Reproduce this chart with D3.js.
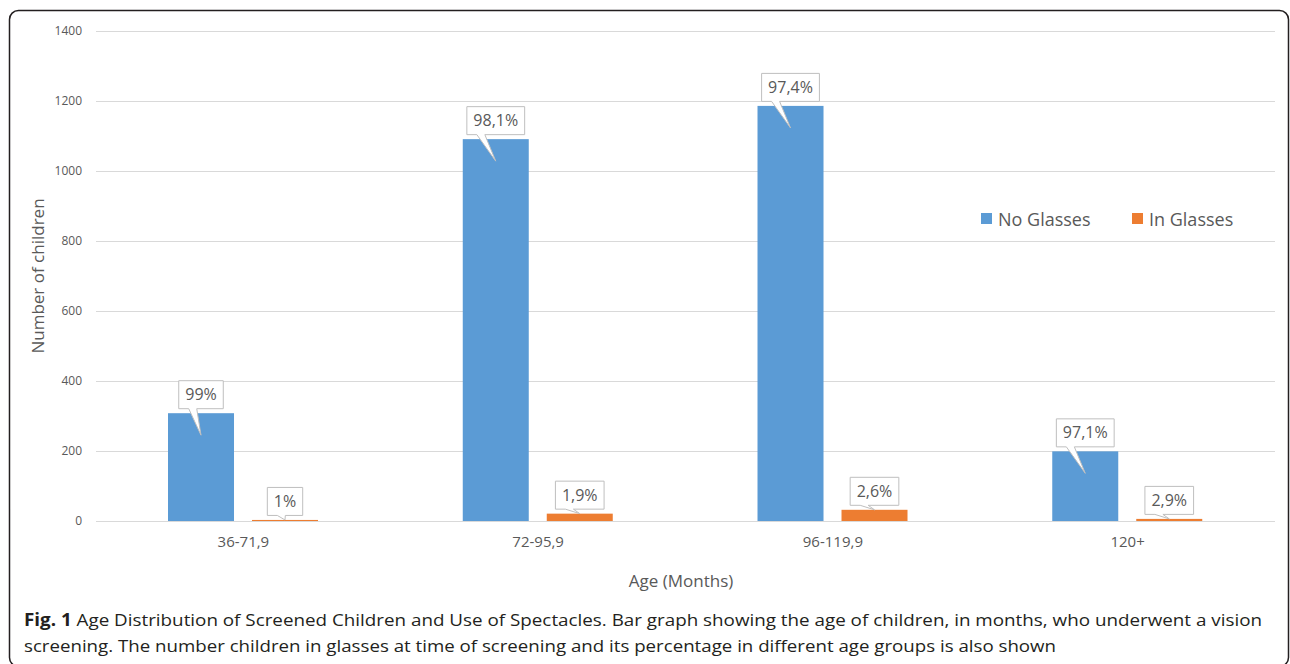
<!DOCTYPE html>
<html>
<head>
<meta charset="utf-8">
<script src="https://cdn.jsdelivr.net/npm/d3@7/dist/d3.min.js"></script>
<style>
  html, body { margin: 0; padding: 0; background: #fff; }
  svg { display: block; }
</style>
</head>
<body>
<svg id="chart" width="1290" height="664"></svg>
<script>
// Age groups (months)
const categories = ["36-71,9", "72-95,9", "96-119,9", "120+"];
// Number of children per group
const noGlasses = [308, 1091, 1186, 199];
const inGlasses = [3, 21, 32, 6];
// Share of each group, as printed on the callouts
const noGlassesPct = ["99%", "98,1%", "97,4%", "97,1%"];
const inGlassesPct = ["1%", "1,9%", "2,6%", "2,9%"];
const seriesNames = ["No Glasses", "In Glasses"];
const yTicks = [0, 200, 400, 600, 800, 1000, 1200, 1400];

const colors = { "No Glasses": "#5b9bd5", "In Glasses": "#ed7d31" };
const chartFont = "'Open Sans', 'Noto Sans', sans-serif";

const svg = d3.select("#chart");

// Outer frame (its lower edge runs just past the page bottom)
svg.append("rect")
  .attr("x", 9.5).attr("y", 10.5)
  .attr("width", 1279).attr("height", 656)
  .attr("rx", 9).attr("ry", 9)
  .attr("fill", "none").attr("stroke", "#231f20").attr("stroke-width", 1.5);

const plot = { left: 96, right: 1275, top: 31, bottom: 521 };

const y = d3.scaleLinear().domain([0, 1400]).range([plot.bottom, plot.top]);
const x0 = d3.scaleBand().domain(categories).range([plot.left, plot.right]).padding(0);
const x1 = d3.scaleBand().domain(seriesNames)
  .range([x0.bandwidth() * 0.2443, x0.bandwidth() * 0.7532])
  .paddingInner(0.2143).paddingOuter(0);

// Gridlines
svg.append("g").selectAll("line").data(yTicks).join("line")
  .attr("x1", plot.left).attr("x2", plot.right)
  .attr("y1", d => Math.round(y(d)) + 0.5).attr("y2", d => Math.round(y(d)) + 0.5)
  .attr("stroke", "#d9d9d9").attr("stroke-width", 1);

// Y axis labels
const yAxis = d3.axisLeft(y).tickValues(yTicks).tickFormat(d3.format("d"))
  .tickSize(0).tickPadding(0);
const gy = svg.append("g").attr("transform", `translate(${82},0)`).call(yAxis);
gy.select(".domain").remove();
gy.selectAll("text")
  .attr("fill", "#595959").attr("font-size", 12).attr("font-family", chartFont);

// X axis labels
const xAxis = d3.axisBottom(x0).tickSize(0).tickPadding(0);
const gx = svg.append("g").attr("transform", `translate(0,${536})`).call(xAxis);
gx.select(".domain").remove();
gx.selectAll("text")
  .attr("fill", "#595959").attr("font-size", 15).attr("font-family", chartFont);

// Axis titles
svg.append("text")
  .attr("x", 681).attr("y", 587)
  .attr("text-anchor", "middle")
  .attr("fill", "#595959").attr("font-size", 17).attr("font-family", chartFont)
  .text("Age (Months)");

svg.append("text")
  .attr("transform", `translate(${44},${276}) rotate(-90)`)
  .attr("text-anchor", "middle")
  .attr("fill", "#595959").attr("font-size", 17).attr("font-family", chartFont)
  .text("Number of children");

// Bar records
const rows = categories.map((c, i) => ({
  cat: c,
  bars: [
    { series: "No Glasses", value: noGlasses[i], pct: noGlassesPct[i] },
    { series: "In Glasses", value: inGlasses[i], pct: inGlassesPct[i] }
  ]
}));

const groups = svg.append("g").selectAll("g").data(rows).join("g")
  .attr("transform", d => `translate(${x0(d.cat)},0)`);

groups.selectAll("rect").data(d => d.bars).join("rect")
  .attr("x", d => x1(d.series))
  .attr("y", d => y(d.value))
  .attr("width", x1.bandwidth())
  .attr("height", d => y(0) - y(d.value))
  .attr("fill", d => colors[d.series]);

// Data callouts
const callouts = svg.append("g");
rows.forEach(r => {
  r.bars.forEach(b => {
    const cx = x0(r.cat) + x1(b.series) + x1.bandwidth() / 2;
    const top = y(b.value);
    const g = callouts.append("g");
    const path = g.append("path");
    const t = g.append("text")
      .attr("x", cx).attr("text-anchor", "middle")
      .attr("fill", "#595959").attr("font-size", 16).attr("font-family", chartFont)
      .text(b.pct);
    const w = t.node().getComputedTextLength() + 13;
    const h = 28;
    const bottom = top - 4.5;
    const left = cx - w / 2, right = cx + w / 2, upper = bottom - h;
    const tipY = b.series === "No Glasses" ? top + 22 : top;
    t.attr("y", bottom - 8.5);
    path.attr("d", [
      `M${left},${upper}`, `L${right},${upper}`, `L${right},${bottom}`,
      `L${left + 18},${bottom}`, `L${cx},${tipY}`, `L${left + 10},${bottom}`,
      `L${left},${bottom}`, "Z"
    ].join(""))
      .attr("fill", "#fff").attr("stroke", "#bfbfbf").attr("stroke-width", 1);
  });
});

// Legend
const legendX = [981, 1132];
const legend = svg.append("g");
seriesNames.forEach((s, i) => {
  legend.append("rect")
    .attr("x", legendX[i]).attr("y", 213)
    .attr("width", 11).attr("height", 11)
    .attr("fill", colors[s]);
  legend.append("text")
    .attr("x", legendX[i] + 17).attr("y", 226)
    .attr("fill", "#595959").attr("font-size", 18).attr("font-family", chartFont)
    .text(s);
});

// Figure caption
const captionFont = "'Open Sans', 'Noto Sans', sans-serif";
const cap1 = svg.append("text")
  .attr("x", 24).attr("y", 626)
  .attr("fill", "#231f20").attr("font-size", 17).attr("font-family", captionFont)
  .attr("textLength", 1238).attr("lengthAdjust", "spacingAndGlyphs");
cap1.append("tspan").attr("font-weight", "bold").text("Fig. 1");
cap1.append("tspan").text(" Age Distribution of Screened Children and Use of Spectacles. Bar graph showing the age of children, in months, who underwent a vision");

svg.append("text")
  .attr("x", 24).attr("y", 652)
  .attr("fill", "#231f20").attr("font-size", 17).attr("font-family", captionFont)
  .attr("textLength", 1032).attr("lengthAdjust", "spacingAndGlyphs")
  .text("screening. The number children in glasses at time of screening and its percentage in different age groups is also shown");
</script>
</body>
</html>
